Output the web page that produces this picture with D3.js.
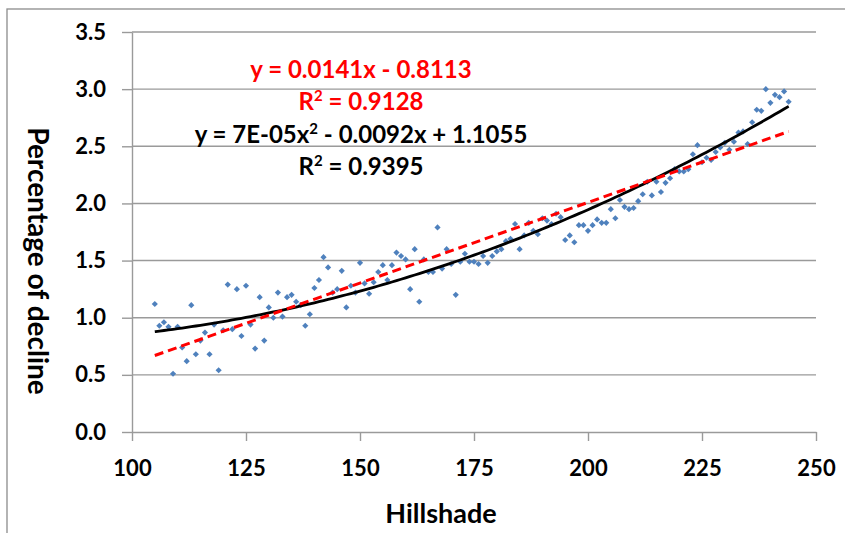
<!DOCTYPE html>
<html lang="en">
	<head>
		<meta charset="utf-8">
		<title>hillshade decline</title>
		<script type="text/javascript" src="https://cdn.jsdelivr.net/npm/d3@7"></script>
		<style type="text/css">
			body { margin:0; background:#fff; }
			text { font-family: Lato, "Open Sans", sans-serif; font-weight:bold; }
		</style>
	</head>
	<body>
		<div id="chart"></div>
		<script type="text/javascript">

// hillshade values, one point per integer from 105 to 244
var hillshade = d3.range(105, 245)
var decline = [1.12,0.93,0.96,0.92,0.51,0.92,0.74,0.62,1.11,0.68,
	0.80,0.87,0.68,0.94,0.54,0.89,1.29,0.90,1.25,0.84,
	1.28,0.94,0.73,1.18,0.80,1.09,1.00,1.22,1.01,1.18,
	1.20,1.14,1.11,0.93,1.03,1.26,1.33,1.53,1.44,1.22,
	1.25,1.41,1.09,1.28,1.22,1.48,1.30,1.21,1.31,1.40,
	1.46,1.33,1.46,1.57,1.54,1.51,1.25,1.60,1.14,1.51,
	1.40,1.40,1.79,1.43,1.60,1.47,1.20,1.49,1.56,1.49,
	1.49,1.47,1.54,1.48,1.54,1.58,1.60,1.67,1.69,1.82,
	1.60,1.72,1.83,1.76,1.73,1.87,1.85,1.82,1.91,1.88,
	1.68,1.72,1.66,1.81,1.81,1.76,1.81,1.86,1.83,1.83,
	1.95,1.87,2.03,1.97,1.95,1.96,2.02,2.08,2.19,2.07,
	2.19,2.10,2.18,2.22,2.30,2.28,2.28,2.30,2.43,2.51,
	2.36,2.40,2.38,2.45,2.49,2.53,2.47,2.54,2.62,2.63,
	2.52,2.71,2.82,2.81,3.00,2.88,2.95,2.93,2.98,2.89]

// trendline coefficients (excel labels, quadratic a unrounded from the plotted curve)
var linCoef = [0.0141, -0.8113]
var polyCoef = [6.7e-5, -0.0092, 1.1055]

var xTicks = [100,125,150,175,200,225,250]
var yTicks = [0,0.5,1,1.5,2,2.5,3,3.5]

var w = 845
var h = 533

var svg = d3.select("#chart").append("svg")
	.attr("width", w)
	.attr("height", h)

//outer frame, cut off at right and bottom
svg.append("rect")
	.attr("x", 7).attr("y", 9)
	.attr("width", 900).attr("height", 600)
	.attr("fill", "none")
	.attr("stroke", "#8c8c8c")
	.attr("stroke-width", 1.3)

var xScale = d3.scaleLinear().domain([100,250]).range([132,816])
var yScale = d3.scaleLinear().domain([0,3.5]).range([432,32])

//gridlines
svg.selectAll(".grid")
	.data(yTicks.filter(function(d){ return d>0 }))
	.enter()
	.append("line")
	.attr("class","grid")
	.attr("x1", xScale(100))
	.attr("x2", xScale(250))
	.attr("y1", function(d){ return yScale(d) })
	.attr("y2", function(d){ return yScale(d) })
	.attr("stroke", "#9a9a9a")
	.attr("stroke-width", 1.4)

var yAxis = d3.axisLeft(yScale)
	.tickValues(yTicks)
	.tickFormat(d3.format(".1f"))
	.tickSize(10)
	.tickSizeOuter(0)
	.tickPadding(16)

var xAxis = d3.axisBottom(xScale)
	.tickValues(xTicks)
	.tickFormat(d3.format("d"))
	.tickSize(9)
	.tickSizeOuter(0)
	.tickPadding(19)

var gy = svg.append("g")
	.attr("transform","translate("+xScale(100)+",0)")
	.call(yAxis)
var gx = svg.append("g")
	.attr("transform","translate(0,"+yScale(0)+")")
	.call(xAxis)

;[gx, gy].forEach(function(g){
	g.selectAll("path, line").attr("stroke","#9a9a9a").attr("stroke-width",1.4)
	g.selectAll("text")
		.attr("fill","#000")
		.style("font-size","22px")
		.style("font-family","Lato, sans-serif")
		.style("font-weight","bold")
})

//points
svg.selectAll(".pt")
	.data(hillshade)
	.enter()
	.append("path")
	.attr("class","pt")
	.attr("d", d3.symbol().type(d3.symbolSquare).size(19))
	.attr("transform", function(d,i){
		return "translate("+xScale(d)+","+yScale(decline[i])+") rotate(45)"
	})
	.attr("fill","#4f81bd")

//polynomial trend
var poly = d3.line()
	.x(function(d){ return xScale(d) })
	.y(function(d){ return yScale(polyCoef[0]*d*d + polyCoef[1]*d + polyCoef[2]) })
	.curve(d3.curveMonotoneX)

svg.append("path")
	.datum(hillshade)
	.attr("d", poly)
	.attr("fill","none")
	.attr("stroke","#000")
	.attr("stroke-width",2.8)

//linear trend
var ends = [hillshade[0], hillshade[hillshade.length-1]]
var lin = d3.line()
	.x(function(d){ return xScale(d) })
	.y(function(d){ return yScale(linCoef[0]*d + linCoef[1]) })

svg.append("path")
	.datum(ends)
	.attr("d", lin)
	.attr("fill","none")
	.attr("stroke","#ff0000")
	.attr("stroke-width",3)
	.style("stroke-dasharray","9,5")

//equation labels
function eqLabel(y, color, parts){
	var t = svg.append("text")
		.attr("x", 361)
		.attr("y", y)
		.attr("text-anchor","middle")
		.attr("fill", color)
		.style("font-size","24px")
	parts.forEach(function(p){
		if(p.sup){
			t.append("tspan").text(p.t).attr("dy",-9).style("font-size","15px")
		}else{
			var s = t.append("tspan").text(p.t)
			if(p.back) s.attr("dy",9)
		}
	})
}

eqLabel(78, "#ff0000", [{t:"y = 0.0141x - 0.8113"}])
eqLabel(110, "#ff0000", [{t:"R"},{t:"2",sup:true},{t:" = 0.9128",back:true}])
eqLabel(143, "#000", [{t:"y = 7E-05x"},{t:"2",sup:true},{t:" - 0.0092x + 1.1055",back:true}])
eqLabel(175, "#000", [{t:"R"},{t:"2",sup:true},{t:" = 0.9395",back:true}])

//axis titles
svg.append("text")
	.text("Hillshade")
	.attr("x", 441)
	.attr("y", 523)
	.attr("text-anchor","middle")
	.style("font-size","27px")

svg.append("text")
	.text("Percentage of decline")
	.attr("transform","translate(28,261) rotate(90)")
	.attr("text-anchor","middle")
	.style("font-size","28px")

		</script>
	</body>
</html>
